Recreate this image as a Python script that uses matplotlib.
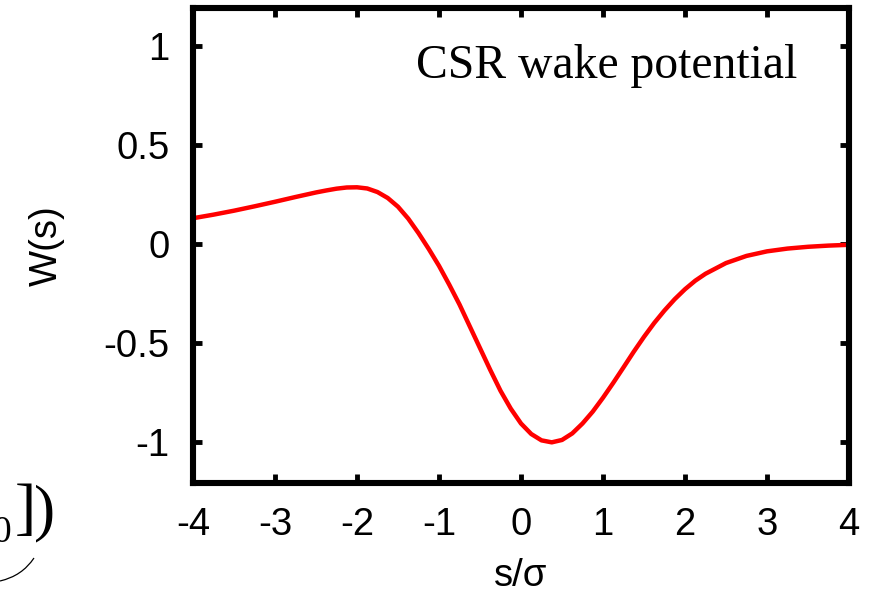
import matplotlib
matplotlib.use("Agg")
import matplotlib.pyplot as plt
from matplotlib.path import Path
from matplotlib.patches import PathPatch

# Data
s_values = [-4.0, -3.75, -3.5, -3.25, -3.0, -2.75, -2.5, -2.375, -2.25, -2.125, -2.0,
            -1.875, -1.75, -1.625, -1.5, -1.375, -1.25, -1.125, -1.0, -0.875, -0.75,
            -0.625, -0.5, -0.375, -0.25, -0.125, 0.0, 0.125, 0.25, 0.375, 0.5, 0.625,
            0.75, 0.875, 1.0, 1.125, 1.25, 1.375, 1.5, 1.625, 1.75, 1.875, 2.0, 2.125,
            2.25, 2.5, 2.75, 3.0, 3.25, 3.5, 3.75, 4.0]
w_values = [0.130, 0.148, 0.168, 0.190, 0.213, 0.237, 0.260, 0.270, 0.279, 0.285, 0.286,
            0.280, 0.262, 0.232, 0.188, 0.128, 0.055, -0.025, -0.110, -0.205, -0.305,
            -0.415, -0.525, -0.635, -0.740, -0.830, -0.905, -0.958, -0.990, -1.000, -0.988, -0.955,
            -0.905, -0.845, -0.775, -0.700, -0.622, -0.543, -0.468, -0.398, -0.335, -0.278, -0.228, -0.185,
            -0.150, -0.096, -0.060, -0.037, -0.023, -0.014, -0.008, -0.004]

x_ticks = [-4, -3, -2, -1, 0, 1, 2, 3, 4]
y_ticks = [-1, -0.5, 0, 0.5, 1]
y_tick_labels = ["-1", "-0.5", "0", "0.5", "1"]

sans = ["Liberation Sans", "DejaVu Sans"]
serif = ["Liberation Serif", "DejaVu Serif"]
plt.rcParams["font.family"] = sans
plt.rcParams["xtick.labelsize"] = 27.5
plt.rcParams["ytick.labelsize"] = 27.5

W, H = 878, 595
fig = plt.figure(figsize=(W / 100, H / 100), dpi=100)
ax = fig.add_axes([193 / W, (H - 483) / H, (849 - 193) / W, (483 - 8) / H])

ax.plot(s_values, w_values, color="#ff0000", lw=3.2, solid_joinstyle="round",
        solid_capstyle="butt", zorder=2)
ax.set_xlim(-4, 4)
ax.set_ylim(-1.205, 1.19)
ax.set_xticks(x_ticks)
ax.set_xticklabels([str(v) for v in x_ticks])
ax.set_yticks(y_ticks)
ax.set_yticklabels(y_tick_labels)
ax.tick_params(direction="in", length=6.5, width=3.5, top=True, right=True,
               colors="black")
ax.tick_params(axis="x", pad=17)
ax.tick_params(axis="y", pad=17)
for sp in ax.spines.values():
    sp.set_linewidth(4.4)
    sp.set_zorder(3)

ax.set_xlabel("s/\u03c3", fontsize=27.5, labelpad=11)
ax.set_ylabel("W(s)", fontsize=27.5, labelpad=28)

ax.text(0.63, 0.852, "CSR wake potential", transform=ax.transAxes,
        fontfamily=serif, fontsize=34.3, ha="center", va="baseline")

# Cropped formula fragment at the lower left
fig.text(2 / W, 1 - 542 / H, "0", fontfamily=serif, fontsize=27,
         ha="center", va="baseline")
fig.text(25 / W, 1 - 512 / H, "]", fontfamily=serif, fontsize=46,
         ha="center", va="center")
fig.text(45 / W, 1 - 513 / H, ")", fontfamily=serif, fontsize=46,
         ha="center", va="center")
verts = [(0 / W, 1 - 581 / H), (22 / W, 1 - 576 / H), (34 / W, 1 - 558 / H)]
path = Path(verts, [Path.MOVETO, Path.CURVE3, Path.CURVE3])
fig.patches.append(PathPatch(path, transform=fig.transFigure, fill=False,
                             lw=0.9, edgecolor="black"))

fig.savefig("out.png", dpi=100)
